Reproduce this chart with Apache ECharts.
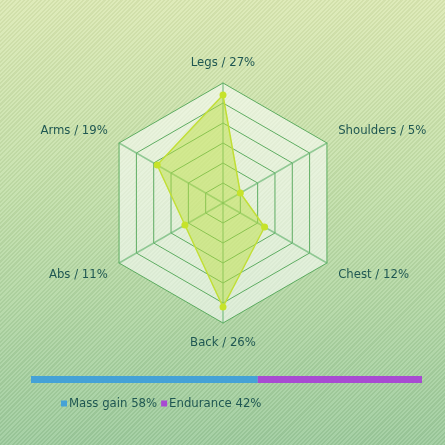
<!DOCTYPE html>
<html>
<head>
<meta charset="utf-8">
<script src="https://cdn.jsdelivr.net/npm/echarts@6/dist/echarts.min.js"></script>
<style>
  html, body { margin: 0; padding: 0; }
  #chart {
    width: 445px; height: 445px;
    background:
      repeating-linear-gradient(135deg, rgba(255,255,255,0.10) 0px, rgba(255,255,255,0.10) 1.5px, rgba(0,0,0,0.04) 1.5px, rgba(0,0,0,0.04) 3px),
      linear-gradient(180deg, #dbe9b2 0%, #c1dfa8 45%, #9ccb9c 100%);
  }
</style>
</head>
<body>
<div id="chart"></div>
<script>
// Share of training volume per muscle group (percent), listed clockwise from the top
const muscleGroups = ['Legs', 'Shoulders', 'Chest', 'Back', 'Abs', 'Arms'];
const muscleShares = [27, 5, 12, 26, 11, 19];
const radarMax = 30;

// Programme split
const goalNames = ['Mass gain', 'Endurance'];
const goalShares = [58, 42];
const goalColors = ['#45a2d6', '#a84bd2'];

const textColor = '#1f5752';
const fontFamily = '"DejaVu Sans Condensed", "DejaVu Sans", sans-serif';

const chart = echarts.init(document.getElementById('chart'), null, { renderer: 'canvas' });

// ECharts lays radar indicators out counter-clockwise, so walk the list
// backwards after the first entry to place them clockwise.
const order = [0].concat(muscleGroups.slice(1).map((_, i) => muscleGroups.length - 1 - i));
const indicators = order.map(i => ({ name: muscleGroups[i], max: radarMax }));
const radarValues = order.map(i => muscleShares[i]);

const shareByName = {};
muscleGroups.forEach((n, i) => { shareByName[n] = muscleShares[i]; });
const goalByName = {};
goalNames.forEach((n, i) => { goalByName[n] = goalShares[i]; });

// Side labels sit a little above (upper pair) or below (lower pair) their corner
const labelStyleKey = { Shoulders: 'up', Arms: 'up', Chest: 'down', Abs: 'down', Back: 'bottom', Legs: 'top' };
const baseText = { color: textColor, fontSize: 13, fontFamily: fontFamily };

chart.setOption({
  animation: false,
  backgroundColor: 'transparent',
  radar: {
    center: [223, 203],
    radius: 120,
    startAngle: 90,
    splitNumber: 6,
    indicator: indicators,
    nameGap: 13,
    axisName: {
      color: textColor,
      fontSize: 13,
      fontFamily: fontFamily,
      formatter: name => '{' + labelStyleKey[name] + '|' + name + ' / ' + shareByName[name] + '%}',
      rich: {
        top: Object.assign({ padding: [0, 0, 1, 0] }, baseText),
        bottom: Object.assign({ padding: [0, 0, 2, 0] }, baseText),
        up: Object.assign({ padding: [0, 0, 12, 0] }, baseText),
        down: Object.assign({ padding: [10, 0, 0, 0] }, baseText)
      }
    },
    axisLine: { lineStyle: { color: 'rgba(100,180,110,0.65)', width: 1.5 } },
    splitLine: { lineStyle: { color: 'rgba(80,165,85,0.9)', width: 1 } },
    splitArea: { areaStyle: { color: ['rgba(255,255,255,0.55)'] } }
  },
  grid: { left: 31, right: 23, top: 376, height: 7 },
  xAxis: { type: 'value', min: 0, max: 100, show: false },
  yAxis: { type: 'category', data: ['split'], show: false },
  legend: {
    left: 56,
    top: 392,
    itemWidth: 6,
    itemHeight: 6,
    itemGap: 4,
    icon: 'rect',
    data: goalNames,
    textStyle: { color: textColor, fontSize: 13, fontFamily: fontFamily, padding: [0, 0, 0, -3] },
    formatter: name => name + ' ' + goalByName[name] + '%'
  },
  series: [
    {
      type: 'radar',
      symbol: 'circle',
      symbolSize: 7,
      itemStyle: { color: '#c6e32a' },
      lineStyle: { color: '#c3df35', width: 1.5 },
      areaStyle: { color: 'rgba(186,222,60,0.68)' },
      data: [{ value: radarValues, name: 'Volume' }]
    },
    ...goalNames.map((name, i) => ({
      type: 'bar',
      name: name,
      stack: 'goal',
      barWidth: 7,
      itemStyle: { color: goalColors[i] },
      data: [goalShares[i]]
    }))
  ]
});
</script>
</body>
</html>
